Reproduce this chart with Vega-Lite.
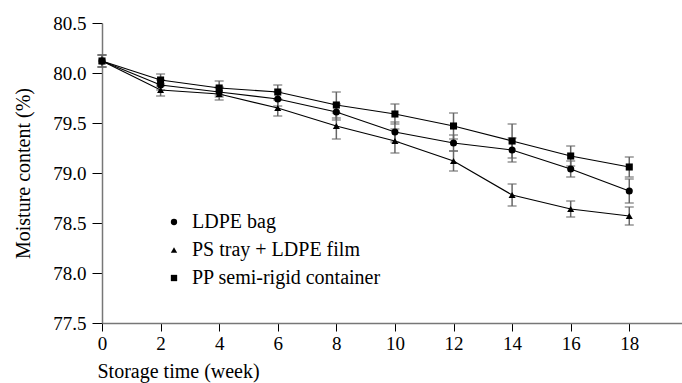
{
  "$schema": "https://vega.github.io/schema/vega-lite/v6.json",
  "width": 580,
  "height": 300,
  "autosize": {"type": "none"},
  "padding": {"left": 102, "top": 23, "right": 0, "bottom": 60},
  "background": "white",
  "config": {
    "view": {"stroke": null},
    "font": "Liberation Serif",
    "axis": {
      "grid": false,
      "domainColor": "#777777",
      "domainWidth": 1.5,
      "tickColor": "black",
      "labelFont": "Liberation Serif",
      "labelFontSize": 19,
      "labelColor": "black",
      "titleFont": "Liberation Serif",
      "titleFontSize": 20,
      "titleFontWeight": "normal",
      "titleColor": "black"
    },
    "legend": {
      "labelFont": "Liberation Serif",
      "labelFontSize": 20,
      "labelColor": "black",
      "labelLimit": 0
    }
  },
  "data": {
    "values": [
      {"week": 0, "pack": "LDPE bag", "mc": 80.12, "sd": 0.06},
      {"week": 2, "pack": "LDPE bag", "mc": 79.88, "sd": 0.05},
      {"week": 4, "pack": "LDPE bag", "mc": 79.81, "sd": 0.05},
      {"week": 6, "pack": "LDPE bag", "mc": 79.74, "sd": 0.07},
      {"week": 8, "pack": "LDPE bag", "mc": 79.61, "sd": 0.08},
      {"week": 10, "pack": "LDPE bag", "mc": 79.41, "sd": 0.1},
      {"week": 12, "pack": "LDPE bag", "mc": 79.3, "sd": 0.08},
      {"week": 14, "pack": "LDPE bag", "mc": 79.23, "sd": 0.12},
      {"week": 16, "pack": "LDPE bag", "mc": 79.04, "sd": 0.08},
      {"week": 18, "pack": "LDPE bag", "mc": 78.82, "sd": 0.12},
      {"week": 0, "pack": "PS tray + LDPE film", "mc": 80.12, "sd": 0.06},
      {"week": 2, "pack": "PS tray + LDPE film", "mc": 79.83, "sd": 0.06},
      {"week": 4, "pack": "PS tray + LDPE film", "mc": 79.79, "sd": 0.06},
      {"week": 6, "pack": "PS tray + LDPE film", "mc": 79.65, "sd": 0.08},
      {"week": 8, "pack": "PS tray + LDPE film", "mc": 79.47, "sd": 0.13},
      {"week": 10, "pack": "PS tray + LDPE film", "mc": 79.32, "sd": 0.12},
      {"week": 12, "pack": "PS tray + LDPE film", "mc": 79.12, "sd": 0.1},
      {"week": 14, "pack": "PS tray + LDPE film", "mc": 78.78, "sd": 0.11},
      {"week": 16, "pack": "PS tray + LDPE film", "mc": 78.64, "sd": 0.08},
      {"week": 18, "pack": "PS tray + LDPE film", "mc": 78.57, "sd": 0.09},
      {"week": 0, "pack": "PP semi-rigid container", "mc": 80.12, "sd": 0.06},
      {"week": 2, "pack": "PP semi-rigid container", "mc": 79.93, "sd": 0.06},
      {"week": 4, "pack": "PP semi-rigid container", "mc": 79.85, "sd": 0.07},
      {"week": 6, "pack": "PP semi-rigid container", "mc": 79.81, "sd": 0.07},
      {"week": 8, "pack": "PP semi-rigid container", "mc": 79.68, "sd": 0.13},
      {"week": 10, "pack": "PP semi-rigid container", "mc": 79.59, "sd": 0.1},
      {"week": 12, "pack": "PP semi-rigid container", "mc": 79.47, "sd": 0.13},
      {"week": 14, "pack": "PP semi-rigid container", "mc": 79.32, "sd": 0.17},
      {"week": 16, "pack": "PP semi-rigid container", "mc": 79.17, "sd": 0.1},
      {"week": 18, "pack": "PP semi-rigid container", "mc": 79.06, "sd": 0.1}
    ]
  },
  "encoding": {
    "x": {
      "field": "week",
      "type": "quantitative",
      "scale": {"domain": [0, 19.8], "nice": false, "zero": false},
      "axis": {
        "values": [0, 2, 4, 6, 8, 10, 12, 14, 16, 18],
        "title": "Storage time (week)",
        "titleAnchor": "start",
        "titleAlign": "left",
        "titleX": -5,
        "titleY": 54,
        "titleBaseline": "alphabetic",
        "tickSize": 8,
        "labelPadding": 3,
        "labelFlush": false
      }
    },
    "y": {
      "field": "mc",
      "type": "quantitative",
      "scale": {"domain": [77.5, 80.5], "nice": false, "zero": false},
      "axis": {
        "values": [77.5, 78, 78.5, 79, 79.5, 80, 80.5],
        "format": ".1f",
        "title": "Moisture content (%)",
        "titleX": -79,
        "titleBaseline": "middle",
        "tickSize": 10,
        "labelPadding": 6
      }
    }
  },
  "layer": [
    {
      "mark": {
        "type": "errorbar",
        "ticks": {"color": "#666666", "size": 9, "thickness": 1.5},
        "rule": {"color": "#666666", "strokeWidth": 1.5}
      },
      "encoding": {
        "yError": {"field": "sd"},
        "detail": {"field": "pack"}
      }
    },
    {
      "mark": {"type": "line", "color": "black", "strokeWidth": 1.2},
      "encoding": {"detail": {"field": "pack"}}
    },
    {
      "mark": {"type": "point", "filled": true, "color": "black", "opacity": 1, "size": 50},
      "encoding": {
        "shape": {
          "field": "pack",
          "type": "nominal",
          "scale": {
            "domain": ["LDPE bag", "PS tray + LDPE film", "PP semi-rigid container"],
            "range": ["circle", "triangle-up", "square"]
          },
          "legend": {
            "title": null,
            "orient": "none",
            "legendX": 62,
            "legendY": 189,
            "symbolSize": 40,
            "symbolFillColor": "black",
            "symbolStrokeColor": "black",
            "labelOffset": 8,
            "rowPadding": 8
          }
        }
      }
    }
  ]
}
